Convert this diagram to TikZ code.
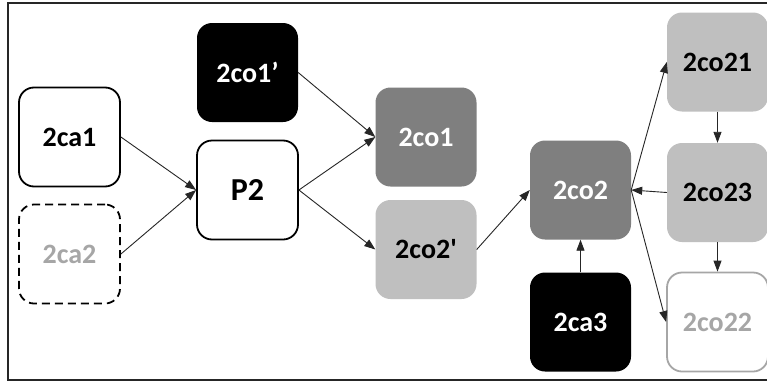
\documentclass[tikz,border=0pt]{standalone}
\usepackage{fontspec}
\setmainfont{Carlito}
\usetikzlibrary{arrows.meta}
\definecolor{dgray}{HTML}{7F7F7F}
\definecolor{lgray}{HTML}{BFBFBF}
\definecolor{mgray}{HTML}{A6A6A6}
\begin{document}
\begin{tikzpicture}[x=1pt,y=-1pt,
  box/.style={rectangle,rounded corners=15pt,minimum width=101pt,minimum height=99pt,
    font=\fontsize{28}{30}\selectfont\bfseries,inner sep=0pt},
  wbox/.style={box,draw=black,line width=1.8pt,fill=white,text=black},
  dashbox/.style={box,draw=black,line width=1.8pt,dash pattern=on 8pt off 5pt,fill=white,text=mgray},
  blkbox/.style={box,fill=black,text=white},
  dbox/.style={box,fill=dgray,text=white},
  lbox/.style={box,fill=lgray,text=black},
  gbox/.style={box,draw=mgray,line width=1.8pt,fill=white,text=mgray},
  arr/.style={draw=black!85,line width=0.9pt,-{Triangle[length=11pt,width=8pt]}}
]
\useasboundingbox (0,0) rectangle (767,383);
\fill[white] (0,0) rectangle (767,383);
\draw[line width=1.2pt,black!85] (775,3) -- (8,3) -- (8,380) -- (775,380);

\node[wbox]    (ca1)  at (69.5,137) {2ca1};
\node[dashbox] (ca2)  at (69.5,254) {2ca2};
\node[blkbox]  (co1p) at (247.5,72.5) {2co1’};
\node[wbox,font=\fontsize{32}{34}\selectfont\bfseries] (p2) at (247.5,190) {P2};
\node[dbox]    (co1)  at (426,137) {2co1};
\node[lbox]    (co2p) at (426,249.5) {2co2\textquotesingle};
\node[dbox]    (co2)  at (580.5,190) {2co2};
\node[blkbox]  (ca3)  at (580.5,322) {2ca3};
\node[lbox]    (co21) at (717.5,62) {2co21};
\node[lbox]    (co23) at (717.5,192.5) {2co23};
\node[gbox]    (co22) at (717.5,322) {2co22};

\draw[arr] (ca1.east) -- (p2.west);
\draw[arr] (ca2.east) -- (p2.west);
\draw[arr] (co1p.east) -- (co1.west);
\draw[arr] (p2.east) -- (co1.west);
\draw[arr] (p2.east) -- (co2p.west);
\draw[arr] (co2p.east) -- (co2.west);
\draw[arr] (ca3.north) -- (co2.south);
\draw[arr] (co2.east) -- (co21.west);
\draw[arr] (co2.east) -- (co22.west);
\draw[arr] (co23.west) -- (co2.east);
\draw[arr] (co21.south) -- (co23.north);
\draw[arr] (co23.south) -- (co22.north);
\end{tikzpicture}
\end{document}
